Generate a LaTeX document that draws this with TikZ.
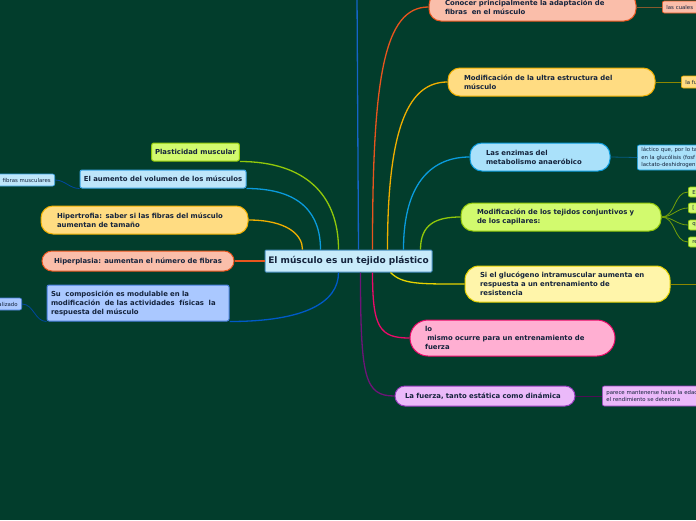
\documentclass[tikz,border=0pt]{standalone}
\usepackage{fontspec}
\setmainfont{DejaVu Sans}
\definecolor{bg}{RGB}{2,61,44}
\definecolor{ink}{RGB}{20,35,60}
\definecolor{rootfill}{RGB}{200,235,250}
\definecolor{rootline}{RGB}{70,140,190}
\definecolor{salmon}{RGB}{250,190,170}
\definecolor{salmonline}{RGB}{232,85,30}
\definecolor{gold}{RGB}{255,220,130}
\definecolor{goldline}{RGB}{240,175,0}
\definecolor{sky}{RGB}{170,225,250}
\definecolor{skyline}{RGB}{10,155,220}
\definecolor{lime}{RGB}{210,250,110}
\definecolor{limeline}{RGB}{145,200,10}
\definecolor{lemon}{RGB}{255,245,170}
\definecolor{lemonline}{RGB}{230,210,0}
\definecolor{rose}{RGB}{255,175,210}
\definecolor{roseline}{RGB}{235,10,105}
\definecolor{lilac}{RGB}{235,185,250}
\definecolor{lilacline}{RGB}{150,60,190}
\definecolor{plum}{RGB}{110,20,120}
\definecolor{ice}{RGB}{190,230,250}
\definecolor{iceline}{RGB}{60,165,230}
\definecolor{cobalt}{RGB}{170,200,255}
\definecolor{cobaltline}{RGB}{70,125,220}
\definecolor{navyedge}{RGB}{0,90,200}
\definecolor{topblue}{RGB}{20,100,200}
\begin{document}
\begin{tikzpicture}[x=1pt, y=-1pt,
    root/.style={draw=rootline, fill=rootfill, line width=1pt, rounded corners=1pt,
      text=ink, font=\bfseries\fontsize{9}{11}\selectfont,
      minimum width=167pt, minimum height=22pt, inner sep=0pt},
    topic/.style={draw, line width=1pt, text=ink, align=left, inner ysep=0pt,
      font=\bfseries\fontsize{6.9}{9}\selectfont},
    card/.style={topic, rounded corners=2pt},
    leaf/.style={draw, line width=0.7pt, rounded corners=2pt, text=ink, align=left,
      inner ysep=0pt, inner xsep=4pt, text width=120pt,
      font=\fontsize{5.4}{7.4}\selectfont},
    link/.style={line width=1.3pt},
    twig/.style={line width=0.8pt}
  ]
  \fill[bg] (0,0) rectangle (696,520);
  \useasboundingbox (0,0) rectangle (696,520);

  % central idea
  \node[root] (ctr) at (348.5,261) {El músculo es un tejido plástico};

  % branches to the right
  \node[topic, fill=salmon, draw=salmonline, rounded corners=12pt, text width=175pt,
    inner xsep=16pt, minimum height=28pt] (c1) at (532.5,7)
    {Conocer principalmente la adaptación de\\fibras\ \ en el músculo};
  \node[topic, fill=gold, draw=goldline, rounded corners=12pt, text width=175pt,
    inner xsep=16pt, minimum height=28pt] (c2) at (551.5,82)
    {Modificación de la ultra estructura del\\músculo};
  \node[topic, fill=sky, draw=skyline, rounded corners=12pt, text width=108pt,
    inner xsep=16pt, minimum height=28pt] (c3) at (540,157)
    {Las enzimas del\\metabolismo anaeróbico};
  \node[topic, fill=lime, draw=limeline, rounded corners=12pt, text width=168pt,
    inner xsep=16pt, minimum height=28pt] (c4) at (561,217)
    {Modificación de los tejidos conjuntivos y\\de los capilares:};
  \node[topic, fill=lemon, draw=lemonline, rounded corners=14pt, text width=175pt,
    inner xsep=15pt, minimum height=36pt] (c5) at (567.5,284)
    {Si el glucógeno intramuscular aumenta en\\respuesta a un entrenamiento de\\resistencia};
  \node[topic, fill=rose, draw=roseline, rounded corners=18pt, text width=175pt,
    inner xsep=15pt, minimum height=36pt] (c6) at (512.5,338)
    {lo\\\mbox{}\ mismo ocurre para un entrenamiento de\\fuerza};
  \node[topic, fill=lilac, draw=lilacline, rounded corners=10pt, text width=160pt,
    inner xsep=10pt, minimum height=20pt] (c7) at (485,396)
    {La fuerza, tanto estática como dinámica};

  % branches to the left
  \node[card, fill=lime, draw=limeline, minimum width=87pt, minimum height=18pt]
    (l1) at (195.5,152) {Plasticidad muscular};
  \node[card, fill=ice, draw=iceline, minimum width=166pt, minimum height=18pt]
    (l2) at (163,179) {El aumento del volumen de los músculos};
  \node[topic, fill=gold, draw=goldline, rounded corners=12pt, text width=175pt,
    inner xsep=16pt, minimum height=28pt] (l3) at (144.5,220)
    {Hipertrofia: saber si las fibras del músculo\\aumentan de tamaño};
  \node[topic, fill=salmon, draw=salmonline, rounded corners=10pt,
    minimum width=192pt, minimum height=20pt] (l4) at (138,261)
    {Hiperplasia: aumentan el número de fibras};
  \node[card, fill=cobalt, draw=cobaltline, text width=174pt, inner xsep=4pt,
    minimum height=36pt] (l5) at (138,303)
    {Su\ \ composición es modulable en la\\modificación\ \ de las actividades\ \ físicas\ \ la\\respuesta del músculo};

  % cut-off sub-topics
  \node[leaf, fill=salmon, draw=salmonline, minimum height=12pt, anchor=west]
    (k1) at (662,7) {las cuales};
  \node[leaf, fill=gold, draw=goldline, minimum height=12pt, anchor=west]
    (k2) at (681,82) {la fu};
  \node[leaf, fill=sky, draw=skyline, minimum height=25pt, anchor=west]
    (k3) at (637,157.5) {láctico que, por lo ta\\en la glucólisis (fosf\\lactato-deshidrogen};
  \node[leaf, fill=lime, draw=limeline, minimum height=10pt, anchor=west]
    (k4a) at (688,192) {El};
  \node[leaf, fill=lime, draw=limeline, minimum height=10pt, anchor=west]
    (k4b) at (688,208) {[};
  \node[leaf, fill=lime, draw=limeline, minimum height=10pt, anchor=west]
    (k4c) at (688,225) {qu};
  \node[leaf, fill=lime, draw=limeline, minimum height=10pt, anchor=west]
    (k4d) at (688,242) {re};
  \coordinate (k5) at (700,284);
  \node[leaf, fill=lilac, draw=lilacline, minimum height=20pt, anchor=west]
    (k7) at (602,396) {parece mantenerse hasta la edad\\el rendimiento se deteriora};
  \node[leaf, fill=ice, draw=iceline, minimum height=12pt, anchor=east, align=right]
    (m2) at (55,180) {fibras musculares};
  \node[leaf, fill=cobalt, draw=cobaltline, minimum height=12pt, anchor=east, align=right]
    (m5) at (22,304) {alizado};
  \coordinate (up) at (357,-6);

  % main connectors
  \draw[link, topblue] ([xshift=10pt]ctr.north) -- (up);
  \draw[link, salmonline] ([xshift=24pt]ctr.north) .. controls +(0,-170) and +(-45,0) .. (c1.west);
  \draw[link, goldline] ([xshift=39pt]ctr.north) .. controls +(0,-125) and +(-38,0) .. (c2.west);
  \draw[link, skyline] ([xshift=55pt]ctr.north) .. controls +(0,-70) and +(-35,0) .. (c3.west);
  \draw[link, limeline] ([xshift=72pt]ctr.north) .. controls +(0,-25) and +(-25,0) .. (c4.west);
  \draw[link, lemonline] ([xshift=42pt]ctr.south) .. controls +(12,12) and +(-45,0) .. (c5.west);
  \draw[link, roseline] ([xshift=24pt]ctr.south) .. controls +(0,55) and +(-30,0) .. (c6.west);
  \draw[link, plum] ([xshift=12pt]ctr.south) .. controls +(0,105) and +(-30,0) .. (c7.west);
  \draw[link, limeline] (l1.south east) .. controls +(65,0) and +(0,-55) .. ([xshift=-10pt]ctr.north);
  \draw[link, skyline] (l2.south east) .. controls +(55,0) and +(0,-35) .. ([xshift=-28pt]ctr.north);
  \draw[link, goldline] (l3.east) .. controls +(38,0) and +(0,-15) .. ([xshift=-46pt]ctr.north);
  \draw[link, salmonline] (l4.east) -- (ctr.west);
  \draw[link, navyedge] (l5.south east) .. controls +(75,0) and +(0,30) .. ([xshift=-10pt]ctr.south);

  % sub connectors
  \draw[twig, brown!70!black] (c1.east) -- (k1.west);
  \draw[twig, olive] (c2.east) -- (k2.west);
  \draw[twig, skyline!60!black] (c3.east) -- (k3.west);
  \foreach \k in {k4a,k4b,k4c,k4d}
    \draw[twig, limeline!80!black] (c4.east) to[out=0, in=180] (\k.west);
  \draw[twig, olive] (c5.east) -- (k5);
  \draw[twig, plum!70!black] (c7.east) -- (k7.west);
  \draw[twig, navyedge!80!black] (m2.east) to[out=0, in=180] (l2.south west);
  \draw[twig, navyedge!80!black] (m5.east) to[out=0, in=180] (l5.south west);
\end{tikzpicture}
\end{document}
